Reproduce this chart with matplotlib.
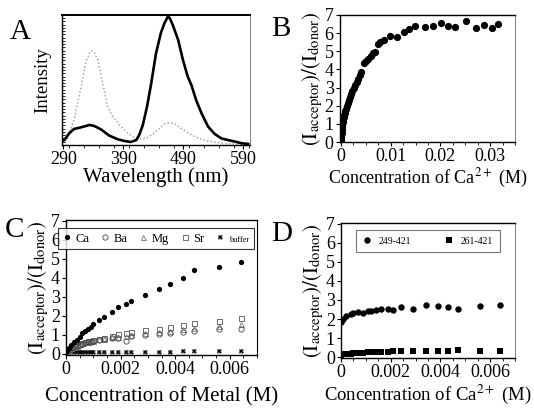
import matplotlib
matplotlib.use("Agg")
import matplotlib.pyplot as plt
from matplotlib.ticker import MultipleLocator, AutoMinorLocator

plt.rcParams['font.family'] = ['Liberation Serif', 'DejaVu Serif']
plt.rcParams['mathtext.fontset'] = 'stix'

# ---- panel A: emission spectra ----
wl_black = [286, 292, 300, 308, 320, 334, 342, 353, 367, 381, 392, 403, 412, 417, 423,
            430, 437, 445, 453, 459, 465, 468, 473, 482, 490, 498, 504, 512, 521, 532,
            543, 554, 565, 577, 588, 599]
int_black = [0.026, 0.038, 0.09, 0.123, 0.136, 0.154, 0.146, 0.12, 0.072, 0.044, 0.031,
             0.023, 0.038, 0.077, 0.154, 0.295, 0.474, 0.705, 0.86, 0.936, 0.99, 0.975,
             0.923, 0.808, 0.654, 0.526, 0.462, 0.346, 0.244, 0.141, 0.085, 0.051, 0.038,
             0.026, 0.013, 0.008]
wl_gray = [286, 297, 308, 320, 328, 336, 341, 348, 356, 364, 373, 384, 395, 406, 417,
           429, 440, 451, 459, 468, 476, 487, 498, 510, 524, 538, 554, 577, 599]
int_gray = [0.018, 0.051, 0.192, 0.449, 0.641, 0.726, 0.718, 0.654, 0.474, 0.295, 0.218,
            0.154, 0.103, 0.064, 0.046, 0.051, 0.085, 0.128, 0.162, 0.172, 0.162, 0.128,
            0.095, 0.064, 0.038, 0.026, 0.013, 0.008, 0.005]

# ---- panel B: Ca titration ----
b_conc = [0.0, 0.0001, 0.0001, 0.0002, 0.0002, 0.0003, 0.0003, 0.0004, 0.0005, 0.0006,
          0.0007, 0.0008, 0.0009, 0.0010, 0.0012, 0.0014, 0.0016, 0.0018, 0.0020, 0.0023,
          0.0026, 0.0029, 0.0032, 0.0035, 0.0038, 0.0041, 0.0047, 0.0051, 0.0055, 0.0060,
          0.0064, 0.0068, 0.0074, 0.0079, 0.0086, 0.0099, 0.0113, 0.0126, 0.0136, 0.0148,
          0.0169, 0.0185, 0.0201, 0.0216, 0.0230, 0.0251, 0.0271, 0.0287, 0.0303, 0.0316]
b_ratio = [0.05, 0.2, 0.35, 0.5, 0.65, 0.8, 0.95, 1.1, 1.25, 1.4,
           1.5, 1.62, 1.72, 1.82, 1.98, 2.15, 2.3, 2.48, 2.62, 2.8,
           2.98, 3.15, 3.32, 3.5, 3.68, 3.88, 4.38, 4.47, 4.58, 4.75,
           4.88, 4.98, 5.4, 5.52, 5.64, 5.87, 5.8, 6.08, 6.22, 6.42,
           6.33, 6.41, 6.55, 6.4, 6.34, 6.67, 6.27, 6.46, 6.26, 6.52]

# ---- panel C: different metals ----
c_conc = [0.0, 0.00005, 0.0001, 0.0002, 0.0003, 0.0004, 0.0005, 0.0006, 0.0007, 0.0008,
          0.0009, 0.0010, 0.0012, 0.0014, 0.0017, 0.0019, 0.0022, 0.0024, 0.0029, 0.0034,
          0.0038, 0.0043, 0.0047, 0.0056, 0.0064]
ca = [0.12, 0.2, 0.3, 0.45, 0.6, 0.75, 0.9, 1.08, 1.2, 1.32,
      1.42, 1.55, 1.77, 1.95, 2.19, 2.47, 2.65, 2.77, 3.09, 3.4,
      3.66, 3.98, 4.4, 4.59, 4.82]
ba = [0.15, 0.18, 0.22, 0.3, 0.36, 0.42, 0.47, 0.52, 0.57, 0.6,
      0.64, 0.68, 0.74, 0.78, 0.85, 0.82, 0.7, 0.92, 1.0, 1.03,
      1.08, 1.17, 1.18, 1.3, 1.31]
mg = [0.15, 0.19, 0.23, 0.31, 0.38, 0.44, 0.5, 0.55, 0.6, 0.64,
      0.67, 0.7, 0.76, 0.8, 0.88, 0.9, 0.95, 1.02, 1.1, 1.15,
      1.22, 1.3, 1.35, 1.45, 1.55]
sr = [0.15, 0.2, 0.25, 0.33, 0.4, 0.46, 0.52, 0.58, 0.62, 0.66,
      0.7, 0.72, 0.8, 0.86, 0.95, 1.03, 1.1, 1.17, 1.25, 1.32,
      1.42, 1.52, 1.62, 1.72, 1.9]
buf = [0.08, 0.08, 0.09, 0.09, 0.1, 0.1, 0.1, 0.1, 0.1, 0.1,
       0.1, 0.1, 0.1, 0.12, 0.12, 0.12, 0.12, 0.12, 0.12, 0.12,
       0.12, 0.13, 0.13, 0.13, 0.13]

# ---- panel D: two constructs ----
d_conc = [0.0, 0.0001, 0.0002, 0.0004, 0.0005, 0.0007, 0.0009, 0.0011, 0.0012, 0.0014,
          0.0016, 0.0019, 0.0021, 0.0024, 0.0029, 0.0034, 0.0039, 0.0043, 0.0047, 0.0056,
          0.0064]
d_249 = [1.82, 2.0, 2.15, 2.25, 2.3, 2.36, 2.3, 2.41, 2.4, 2.48,
         2.53, 2.5, 2.45, 2.62, 2.5, 2.74, 2.66, 2.65, 2.52, 2.7, 2.75]
d_261 = [0.12, 0.14, 0.16, 0.18, 0.19, 0.2, 0.22, 0.24, 0.25, 0.26,
         0.28, 0.29, 0.3, 0.31, 0.32, 0.32, 0.31, 0.31, 0.35, 0.31, 0.3]

ratio_label = r'$(\mathrm{I}_{\mathrm{acceptor}})/(\mathrm{I}_{\mathrm{donor}})$'


def style_box(ax, right_color='#888888'):
    for s in ['left', 'bottom', 'top']:
        ax.spines[s].set_color('black')
        ax.spines[s].set_linewidth(1.0)
    ax.spines['right'].set_color(right_color)
    ax.spines['right'].set_linewidth(0.8)
    ax.tick_params(labelsize=13, length=3, width=0.8, pad=1.5)
    ax.tick_params(which='minor', length=2, width=0.6)


fig = plt.figure(figsize=(5.34, 4.12), dpi=100)

# A
axA = fig.add_axes([0.1161, 0.6481, 0.3521, 0.3155])
axA.plot(wl_gray, int_gray, color='#9a9a9a', lw=1.0, ls=':')
axA.plot(wl_black, int_black, color='black', lw=1.9)
axA.set_xlim(288, 602)
axA.set_ylim(0, 1.0)
axA.set_xticks([290, 390, 490, 590])
axA.xaxis.set_minor_locator(MultipleLocator(25))
axA.set_yticks([])
axA.yaxis.set_minor_locator(MultipleLocator(0.025))
style_box(axA)
axA.spines['top'].set_linewidth(1.4)
axA.tick_params(axis='y', which='minor', direction='in', length=2)
axA.set_xlabel('Wavelength (nm)', fontsize=15, labelpad=-1)
axA.set_ylabel('Intensity', fontsize=13.5, labelpad=4)

# B
axB = fig.add_axes([0.6367, 0.6553, 0.3277, 0.3083])
axB.plot(b_conc, b_ratio, 'o', color='black', ms=5.2, mew=0)
axB.set_xlim(-0.0002, 0.035)
axB.set_ylim(0, 7)
axB.set_xticks([0, 0.01, 0.02, 0.03])
axB.set_xticklabels(['0', '0.01', '0.02', '0.03'])
axB.set_yticks(range(8))
axB.xaxis.set_minor_locator(AutoMinorLocator(4))
style_box(axB)
axB.set_xlabel(r'Concentration of Ca$^{2+}$ (M)', fontsize=13, labelpad=1)
axB.set_ylabel(ratio_label, fontsize=15, labelpad=0)

# C
axC = fig.add_axes([0.1236, 0.1383, 0.3577, 0.3277])
axC.plot(c_conc, buf, 'X', color='black', ms=3.6, mew=0, label='buffer', zorder=2)
axC.plot(c_conc, sr, 's', mfc='none', mec='#555555', ms=3.6, mew=0.6, label='Sr')
axC.plot(c_conc, mg, '^', mfc='none', mec='#777777', ms=3.6, mew=0.6, label='Mg')
axC.plot(c_conc, ba, 'o', mfc='none', mec='#444444', ms=3.8, mew=0.6, label='Ba')
axC.plot(c_conc, ca, 'o', color='black', ms=3.8, mew=0, label='Ca')
axC.set_xlim(0, 0.007)
axC.set_ylim(-0.06, 7.05)
axC.set_xticks([0, 0.002, 0.004, 0.006])
axC.set_xticklabels(['0', '0.002', '0.004', '0.006'])
axC.set_yticks(range(8))
axC.xaxis.set_minor_locator(AutoMinorLocator(4))
style_box(axC, right_color='black')
axC.set_xlabel('Concentration of Metal (M)', fontsize=15, labelpad=6)
axC.set_ylabel(ratio_label, fontsize=15, labelpad=0)
h, l = axC.get_legend_handles_labels()
order = [4, 3, 2, 1, 0]
legC = axC.legend([h[i] for i in order], [l[i] for i in order], loc='upper center',
                  ncol=5, fontsize=9, frameon=True, fancybox=False, edgecolor='black',
                  handlelength=0.7, handletextpad=0.35, columnspacing=0.9,
                  borderpad=0.35, bbox_to_anchor=(0.47, 0.985))
legC.get_frame().set_linewidth(0.8)
legC.get_texts()[4].set_fontsize(6)

# D
axD = fig.add_axes([0.6386, 0.1311, 0.3258, 0.3277])
axD.plot(d_conc, d_249, 'o', color='black', ms=4.6, mew=0, label='249-421')
axD.plot(d_conc, d_261, 's', color='black', ms=4.2, mew=0, label='261-421')
axD.set_xlim(0, 0.007)
axD.set_ylim(-0.05, 7.05)
axD.set_xticks([0, 0.002, 0.004, 0.006])
axD.set_xticklabels(['0', '0.002', '0.004', '0.006'])
axD.set_yticks(range(8))
axD.xaxis.set_minor_locator(AutoMinorLocator(4))
style_box(axD)
axD.set_xlabel(r'Concentration of Ca$^{2+}$ (M)', fontsize=13.5, labelpad=1)
axD.set_ylabel(ratio_label, fontsize=15, labelpad=0)
legD = axD.legend(loc='upper center', ncol=2, fontsize=7, frameon=True, fancybox=False,
                  edgecolor='#555555', handlelength=0.8, handletextpad=0.8,
                  columnspacing=3.5, borderpad=0.7, bbox_to_anchor=(0.5, 0.985))
legD.get_frame().set_linewidth(0.8)

# panel letters
fig.text(0.019, 0.905, 'A', fontsize=21)
fig.text(0.507, 0.912, 'B', fontsize=21)
fig.text(0.009, 0.425, 'C', fontsize=21)
fig.text(0.507, 0.415, 'D', fontsize=21)

fig.savefig('out.png', dpi=100)
